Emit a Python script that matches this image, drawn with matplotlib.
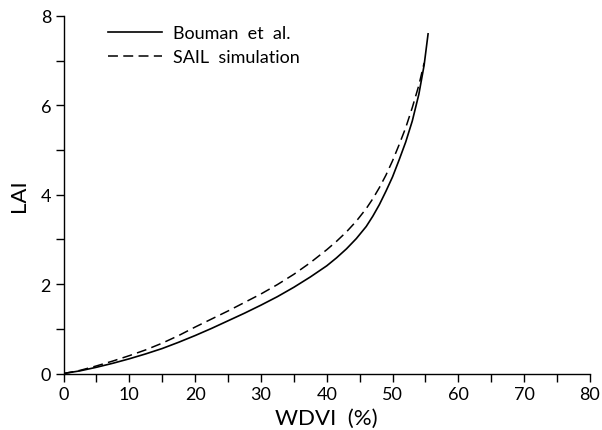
import numpy as np
import matplotlib.pyplot as plt

# values
wdvi_bouman = [0, 2.5, 5, 7.5, 10, 12.5, 15, 17.5, 20, 22.5, 25, 27.5, 30, 32.5, 35, 37.5,
               40, 41.5, 43, 44.5, 46, 47, 48, 49, 50, 51, 52, 53, 54, 54.8, 55.4]
lai_bouman = [0, 0.06, 0.14, 0.23, 0.33, 0.44, 0.56, 0.70, 0.85, 1.01, 1.18, 1.35, 1.53,
              1.72, 1.93, 2.16, 2.41, 2.59, 2.79, 3.02, 3.29, 3.52, 3.78, 4.08, 4.40, 4.78,
              5.18, 5.65, 6.25, 6.90, 7.60]

wdvi_sail = [0, 2.5, 5, 7.5, 10, 12.5, 15, 17.5, 20, 22.5, 25, 27.5, 30, 32.5, 35, 37.5,
             40, 41.5, 43, 44.5, 46, 47, 48, 49, 50, 51, 52, 53, 54, 54.8]
lai_sail = [0, 0.07, 0.17, 0.28, 0.40, 0.53, 0.68, 0.85, 1.04, 1.22, 1.40, 1.59, 1.78,
            1.99, 2.22, 2.48, 2.77, 2.96, 3.17, 3.41, 3.69, 3.91, 4.16, 4.44, 4.76, 5.12,
            5.50, 5.95, 6.45, 6.95]

x_ticks = [0, 10, 20, 30, 40, 50, 60, 70, 80]
y_ticks = [0, 2, 4, 6, 8]

plt.rcParams['font.family'] = ['Lato', 'DejaVu Sans']

fig = plt.figure(figsize=(6.02, 4.31), dpi=100)
ax = fig.add_axes([0.1055, 0.131, 0.8745, 0.8296])

ax.plot(wdvi_bouman, lai_bouman, color='black', lw=1.2, label='Bouman  et  al.')
ax.plot(wdvi_sail, lai_sail, color='black', lw=1.1, linestyle=(0, (6.5, 3.5)),
        label='SAIL  simulation')

ax.set_xlim(0, 80)
ax.set_ylim(0, 8)
ax.set_xticks(x_ticks)
ax.set_yticks(y_ticks)
ax.set_xticks(np.arange(5, 80, 10), minor=True)
ax.set_yticks([1, 3, 5, 7], minor=True)

for side in ['top', 'right']:
    ax.spines[side].set_visible(False)
ax.spines['left'].set_linewidth(1.0)
ax.spines['bottom'].set_linewidth(1.0)

ax.tick_params(axis='both', which='both', direction='out', length=6, width=1.0,
               labelsize=13, pad=3)

ax.set_xlabel('WDVI  (%)', fontsize=16, labelpad=4)
ax.set_ylabel('LAI', fontsize=16, labelpad=8)

ax.legend(loc='upper left', bbox_to_anchor=(0.06, 1.01), frameon=False, fontsize=13,
          handlelength=3.0, handletextpad=0.6, labelspacing=0.45, borderpad=0.2)

fig.savefig('out.png', dpi=100)
